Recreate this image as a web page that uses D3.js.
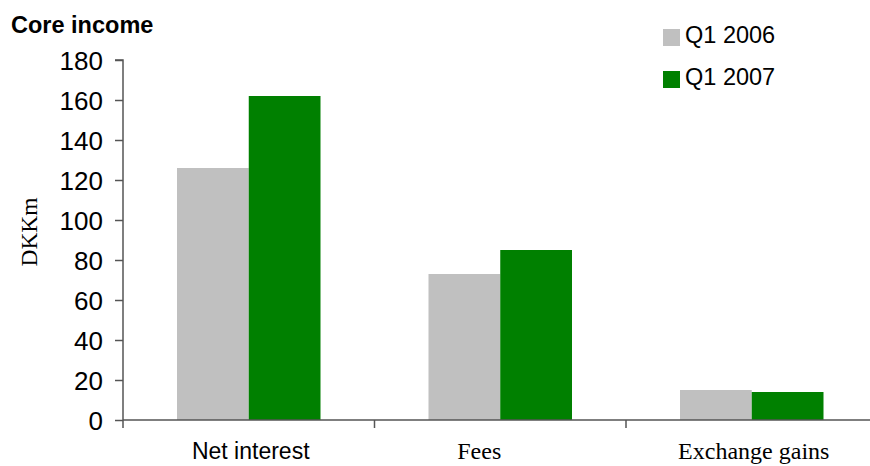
<!DOCTYPE html>
<html>
<head>
<meta charset="utf-8">
<script src="https://cdn.jsdelivr.net/npm/d3@7"></script>
<style>
  html, body { margin: 0; padding: 0; background: #fff; }
  svg { display: block; }
</style>
</head>
<body>
<svg id="chart" width="870" height="466"></svg>
<script>
const categories = ["Net interest", "Fees", "Exchange gains"];
const seriesNames = ["Q1 2006", "Q1 2007"];
const q1_2006 = [126, 73, 15];
const q1_2007 = [162, 85, 14];
const yTicks = [0, 20, 40, 60, 80, 100, 120, 140, 160, 180];
const colors = ["#C0C0C0", "#008000"];

(function () {
const svg = d3.select("#chart");
const pLeft = 123, pRight = 877.5, pTop = 60, pBottom = 420;

const x = d3.scaleBand().domain(categories).range([pLeft, pRight]).padding(0);
const inner = d3.scaleBand().domain(seriesNames).range([54, 54 + 143.5]).padding(0);
const y = d3.scaleLinear().domain([0, 180]).range([pBottom, pTop]);

const rows = categories.map((c, i) => ({ cat: c, vals: [q1_2006[i], q1_2007[i]] }));

// bars
const g = svg.append("g");
rows.forEach(r => {
  r.vals.forEach((v, j) => {
    g.append("rect")
      .attr("x", x(r.cat) + inner(seriesNames[j]))
      .attr("y", y(v))
      .attr("width", inner.bandwidth())
      .attr("height", y(0) - y(v))
      .attr("fill", colors[j]);
  });
});

// y axis
const yAxis = d3.axisLeft(y).tickValues(yTicks).tickSize(8).tickPadding(12);
const ya = svg.append("g").attr("transform", `translate(${pLeft},0)`).call(yAxis);
ya.select(".domain").attr("stroke", "#555").attr("stroke-width", 1.5)
  .attr("d", `M-8,${pTop}H0V${pBottom + 8}`);
ya.selectAll(".tick line").attr("stroke", "#555").attr("stroke-width", 1.5);
ya.selectAll(".tick text")
  .attr("font-family", "'Liberation Sans', Arial, sans-serif")
  .attr("font-size", 26).attr("fill", "#000").attr("dy", "0.36em");

// x axis
svg.append("line").attr("x1", pLeft).attr("x2", 870).attr("y1", pBottom).attr("y2", pBottom)
  .attr("stroke", "#555").attr("stroke-width", 1.5);
const xTickPos = categories.map(c => x(c) + x.bandwidth());
xTickPos.forEach(p => {
  svg.append("line").attr("x1", p).attr("x2", p).attr("y1", pBottom).attr("y2", pBottom + 8)
    .attr("stroke", "#555").attr("stroke-width", 1.5);
});

// x labels
const labelFonts = ["'Liberation Sans', Arial, sans-serif", "'Liberation Serif', 'Times New Roman', serif", "'Liberation Serif', 'Times New Roman', serif"];
const labelDx = [2, -21, 2];
categories.forEach((c, i) => {
  svg.append("text")
    .attr("x", x(c) + x.bandwidth() / 2 + labelDx[i])
    .attr("y", 459)
    .attr("text-anchor", "middle")
    .attr("font-family", labelFonts[i])
    .attr("font-size", i === 0 ? 23 : 24)
    .attr("fill", "#000")
    .text(c);
});

// y title
svg.append("text")
  .attr("transform", "translate(37,232) rotate(-90)")
  .attr("text-anchor", "middle")
  .attr("font-family", "'Liberation Serif', 'Times New Roman', serif")
  .attr("font-size", 23.5)
  .attr("fill", "#000")
  .text("DKKm");

// chart title
svg.append("text")
  .attr("x", 11).attr("y", 33)
  .attr("font-family", "'Liberation Sans', Arial, sans-serif")
  .attr("font-weight", "bold")
  .attr("font-size", 23.5)
  .attr("fill", "#000")
  .text("Core income");

// legend
seriesNames.forEach((s, j) => {
  const ly = 29 + j * 42;
  svg.append("rect").attr("x", 663).attr("y", ly).attr("width", 17).attr("height", 17)
    .attr("fill", colors[j]);
  svg.append("text").attr("x", 685).attr("y", ly + 13.5)
    .attr("font-family", "'Liberation Sans', Arial, sans-serif")
    .attr("font-size", 23.5).attr("fill", "#000").text(s);
});
})();
</script>
</body>
</html>
